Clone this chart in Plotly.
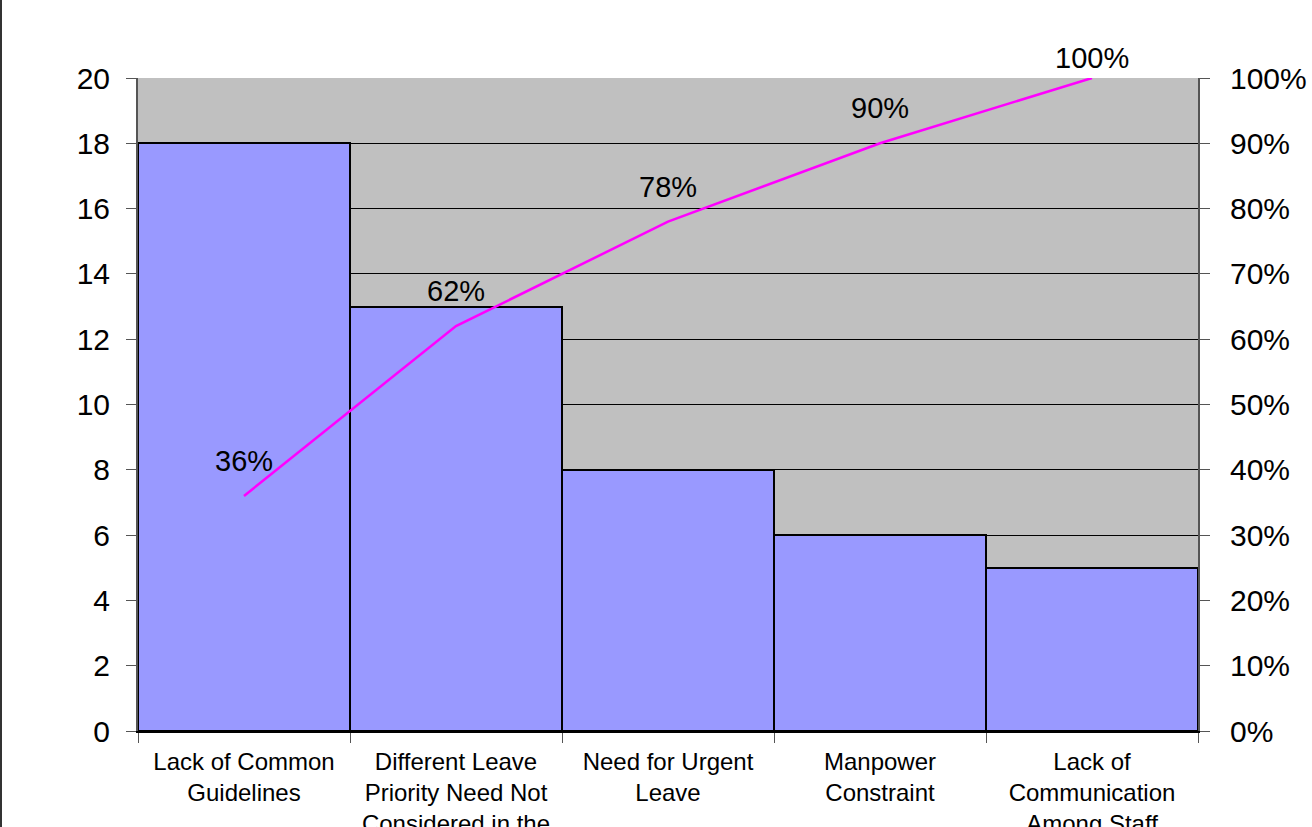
import plotly.graph_objects as go

categories = [
    "Lack of Common<br>Guidelines",
    "Different Leave<br>Priority Need Not<br>Considered in the",
    "Need for Urgent<br>Leave",
    "Manpower<br>Constraint",
    "Lack of<br>Communication<br>Among Staff",
]
counts = [18, 13, 8, 6, 5]
cum_pct = [36, 62, 78, 90, 100]
cum_labels = ["36%", "62%", "78%", "90%", "100%"]

W, H = 1312, 827
L, R, T, B = 138, 114, 78, 96
PH = H - T - B
FONT = "Liberation Sans, Arial"

fig = go.Figure()
fig.add_trace(go.Bar(
    x=categories, y=counts,
    marker=dict(color="#9999FF", line=dict(color="black", width=2)),
    yaxis="y", showlegend=False,
))
fig.add_trace(go.Scatter(
    x=categories, y=cum_pct, yaxis="y2",
    mode="lines",
    line=dict(color="#FF00FF", width=2.5),
    showlegend=False, cliponaxis=False,
))

annotations = []
for c, v, t in zip(categories, cum_pct, cum_labels):
    py = T + (1 - v / 100) * PH
    shift = min(35, py - 58)
    annotations.append(dict(
        x=c, y=v, xref="x", yref="y2", text=t, showarrow=False,
        yshift=shift, font=dict(size=29, color="black", family=FONT),
    ))

fig.update_layout(
    width=W, height=H,
    margin=dict(l=L, r=R, t=T, b=B),
    paper_bgcolor="white", plot_bgcolor="#C0C0C0",
    bargap=0,
    font=dict(family=FONT, color="black"),
    xaxis=dict(
        tickson="boundaries", ticks="outside", ticklen=10, tickcolor="#555555",
        tickfont=dict(size=24), showgrid=False, showline=True,
        linecolor="black", linewidth=2, range=[-0.5, 4.5],
        automargin=False, ticklabelstandoff=8,
    ),
    yaxis=dict(
        range=[0, 20], dtick=2, ticks="outside", ticklen=10, tickcolor="#555555",
        tickfont=dict(size=30), showgrid=True, gridcolor="black", gridwidth=1,
        showline=True, linecolor="#555555", linewidth=2, zeroline=False,
        ticklabelstandoff=10, automargin=False,
    ),
    yaxis2=dict(
        range=[0, 100], dtick=10, overlaying="y", side="right",
        ticks="outside", ticklen=10, tickcolor="#555555",
        ticksuffix="%", tickfont=dict(size=30), showgrid=False,
        showline=True, linecolor="#555555", linewidth=2, zeroline=False,
        ticklabelstandoff=14, automargin=False,
    ),
    annotations=annotations,
    shapes=[dict(type="line", xref="paper", yref="paper",
                 x0=-(L - 1) / (W - L - R), x1=-(L - 1) / (W - L - R),
                 y0=-B / PH, y1=1 + T / PH,
                 line=dict(color="#333333", width=2))],
)

fig.write_html("out.html")
